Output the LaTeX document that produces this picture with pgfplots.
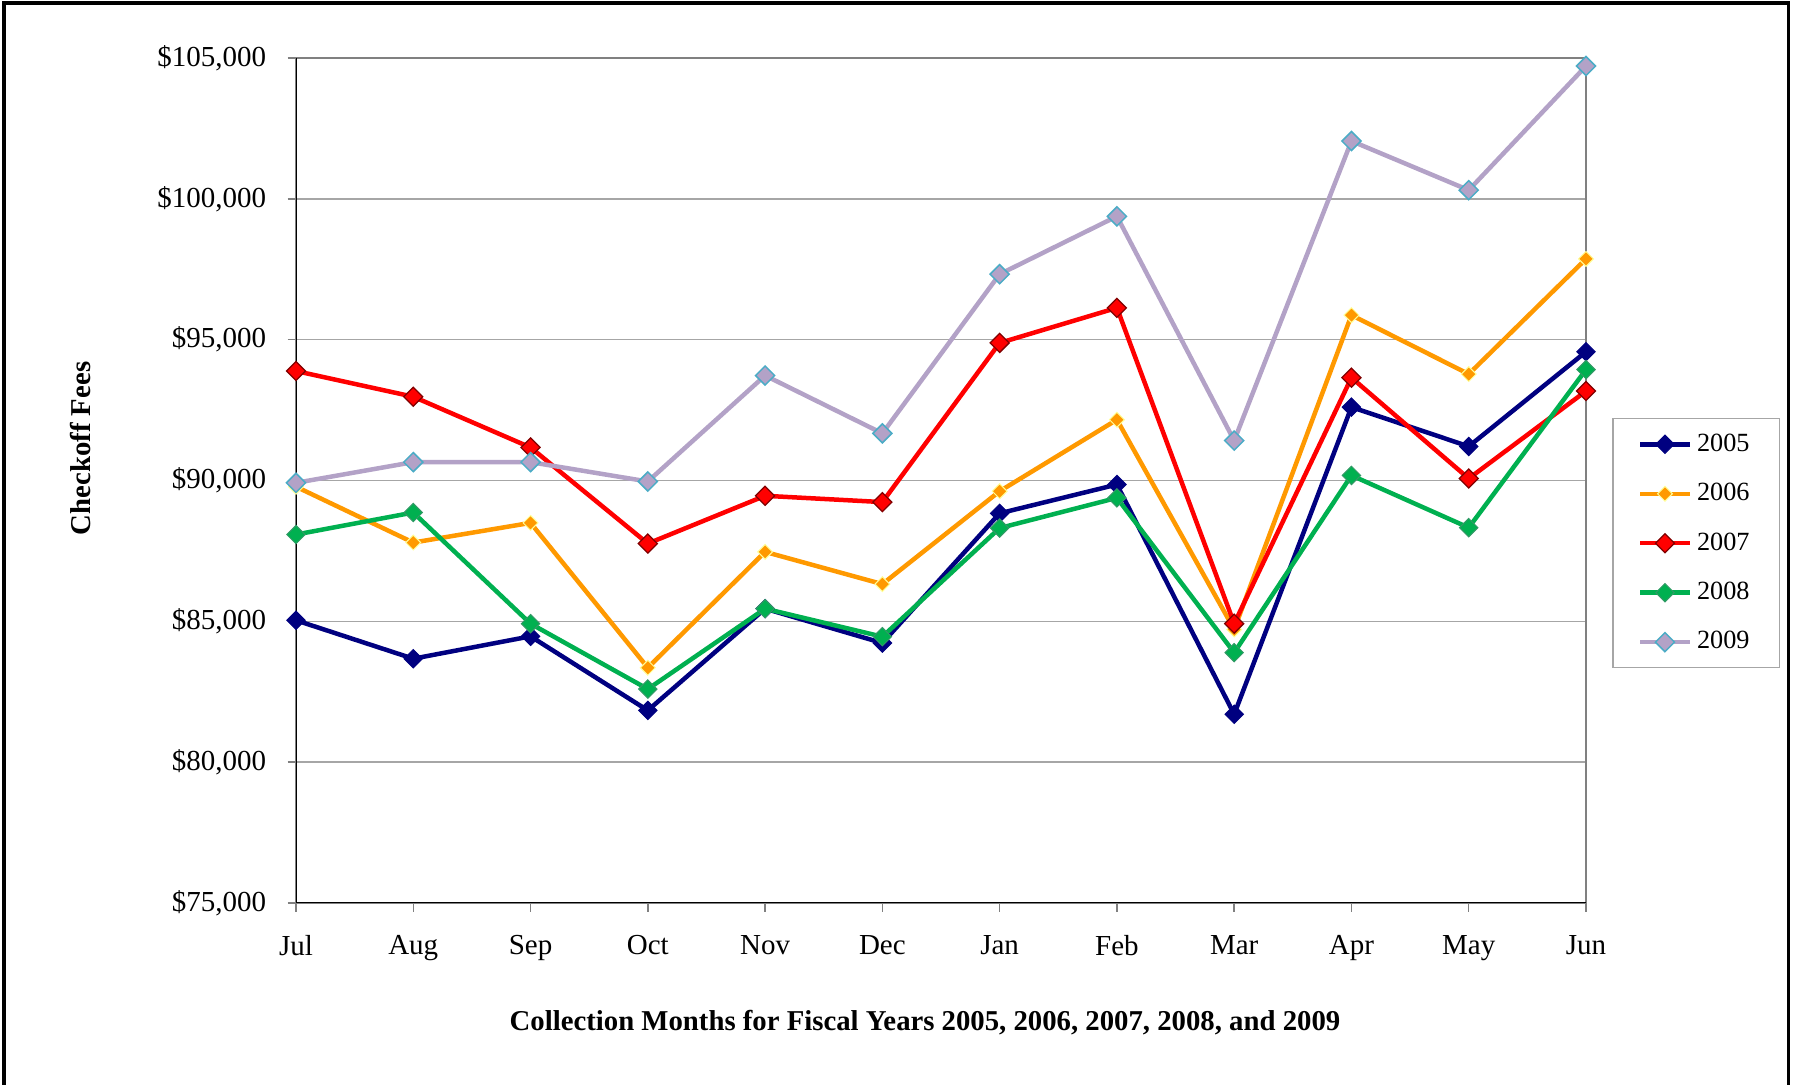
\documentclass[border=0pt]{standalone}
\usepackage{pgfplots}
\pgfplotsset{compat=1.18}
\usepackage{fontspec}
\setmainfont{Liberation Serif}

\definecolor{c05}{RGB}{0,0,128}
\definecolor{c06}{RGB}{255,153,0}
\definecolor{c06e}{RGB}{255,255,153}
\definecolor{c07}{RGB}{255,0,0}
\definecolor{c07e}{RGB}{128,0,0}
\definecolor{c08}{RGB}{0,176,80}
\definecolor{c08e}{RGB}{51,153,102}
\definecolor{c09}{RGB}{179,162,199}
\definecolor{c09e}{RGB}{75,172,198}
\definecolor{gridc}{RGB}{166,166,166}
\definecolor{boxc}{RGB}{128,128,128}

\begin{document}
\begin{tikzpicture}
\useasboundingbox (0,0) rectangle (717.2pt,433.6pt);
\draw[line width=1.3pt] (1.6pt,-5pt) -- (1.6pt,432.4pt) -- (715.4pt,432.4pt) -- (715.4pt,-5pt);

\begin{axis}[
    at={(118.4pt,72.4pt)}, anchor=south west,
    scale only axis,
    width=516pt, height=338pt,
    xmin=0, xmax=11,
    ymin=75000, ymax=105000,
    xtick={0,...,11},
    xticklabels={Jul,Aug,Sep,Oct,Nov,Dec,Jan,Feb,Mar,Apr,May,Jun},
    ytick={75000,80000,85000,90000,95000,100000,105000},
    yticklabels={{\$75,000},{\$80,000},{\$85,000},{\$90,000},{\$95,000},{\$100,000},{\$105,000}},
    scaled y ticks=false,
    tick align=outside,
    major tick length=3.4pt,
    tick style={boxc, line width=0.6pt},
    xtick pos=bottom, ytick pos=left,
    ymajorgrids=true,
    grid style={gridc, line width=0.6pt},
    axis line style={boxc, line width=0.8pt},
    tick label style={font=\fontsize{11.6}{13}\selectfont},
    yticklabel style={xshift=-5pt},
    xticklabel style={yshift=-6pt},
    xlabel={Collection Months for Fiscal Years 2005, 2006, 2007, 2008, and 2009},
    ylabel={Checkoff Fees},
    every axis x label/.style={at={(axis description cs:0.4876,-0.141)}, anchor=center,
        font=\fontsize{11.5}{13}\selectfont\bfseries},
    every axis y label/.style={at={(axis description cs:-0.1674,0.538)}, rotate=90, anchor=center,
        font=\fontsize{11.5}{13}\selectfont\bfseries},
    legend style={at={(1.0202,0.574)}, anchor=north west,
        draw=gridc, line width=0.6pt,
        font=\fontsize{10.5}{12}\selectfont,
        row sep=7.3pt, inner xsep=10pt, inner ysep=4pt,
        cells={anchor=west}},
    legend image code/.code={\draw[mark repeat=2,mark phase=2,#1]
        plot coordinates {(0cm,0cm) (0.35cm,0cm) (0.7cm,0cm)};},
    every axis plot/.append style={line width=1.8pt},
]
\addplot[c05, mark=square*, mark size=2.6pt, mark options={rotate=45, fill=c05, draw=c05, line width=0.4pt}]
coordinates {(0,85036) (1,83673) (2,84467) (3,81837) (4,85449) (5,84230) (6,88835) (7,89856) (8,81700) (9,92605) (10,91210) (11,94571)};
\addlegendentry{2005}
\addplot[c06, mark=square*, mark size=2.1pt, mark options={rotate=45, fill=c06, draw=c06e, line width=0.4pt}]
coordinates {(0,89780) (1,87796) (2,88495) (3,83353) (4,87466) (5,86321) (6,89619) (7,92158) (8,84712) (9,95870) (10,93778) (11,97867)};
\addlegendentry{2006}
\addplot[c07, mark=square*, mark size=2.7pt, mark options={rotate=45, fill=c07, draw=c07e, line width=0.5pt}]
coordinates {(0,93886) (1,92974) (2,91173) (3,87761) (4,89457) (5,89233) (6,94884) (7,96129) (8,84918) (9,93651) (10,90069) (11,93176)};
\addlegendentry{2007}
\addplot[c08, mark=square*, mark size=2.6pt, mark options={rotate=45, fill=c08, draw=c08e, line width=0.4pt}]
coordinates {(0,88081) (1,88863) (2,84917) (3,82595) (4,85449) (5,84454) (6,88312) (7,89383) (8,83888) (9,90180) (10,88326) (11,93937)};
\addlegendentry{2008}
\addplot[c09, mark=square*, mark size=2.7pt, mark options={rotate=45, fill=c09, draw=c09e, line width=0.6pt}]
coordinates {(0,89917) (1,90652) (2,90652) (3,89964) (4,93727) (5,91673) (6,97324) (7,99378) (8,91417) (9,102052) (10,100308) (11,104715)};
\addlegendentry{2009}
\draw[black, line width=0.8pt] (rel axis cs:0,1) -- (rel axis cs:0,0) -- (rel axis cs:1,0);
\end{axis}
\end{tikzpicture}
\end{document}
